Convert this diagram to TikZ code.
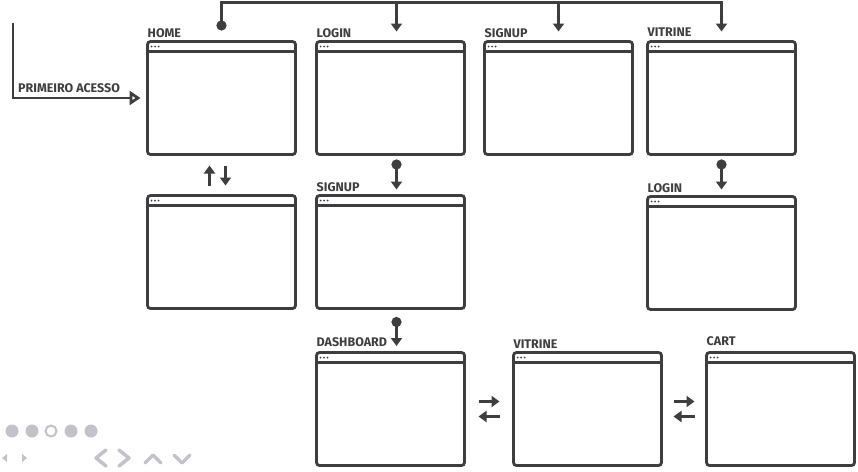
\documentclass[tikz,border=0pt]{standalone}
\usepackage{fontspec}
\newfontfamily\screenfont{Fira Sans}
\usetikzlibrary{arrows.meta, positioning}
\definecolor{ink}{RGB}{62,62,64}
\definecolor{navgray}{RGB}{194,194,202}

\begin{document}
\begin{tikzpicture}[x=1pt, y=-1pt]
      \tikzset{
  screen/.style={
    rectangle, rounded corners=3pt, draw=ink, line width=2.8pt,
    minimum width=148pt, minimum height=113pt,
    inner sep=0pt, outer sep=0pt
  },
  bar/.style={draw=ink, line width=2.8pt},
  title/.style={
    anchor=base west, inner sep=0pt, text=ink,
    font=\screenfont\bfseries\fontsize{12.5}{14}\selectfont
  },
  link/.style={draw=ink, line width=2.8pt},
  arrow/.style={link, -{Triangle[length=8pt, width=11pt]}},
  pinlink/.style={link, {Circle[length=10pt]}-{Triangle[length=8pt, width=11pt]}},
  entry/.style={link, -{Triangle[open, length=11pt, width=14pt]}},
  navshape/.style={draw=navgray, line width=3.5pt, line cap=round, line join=round},
}
\useasboundingbox (0,0) rectangle (858,471);

%% ---- FIRST ROW ----
\node[screen] (home) at (221.5,98) {};
\node[screen, right=21pt of home]    (login)   {};
\node[screen, right=20pt of login]   (signup)  {};
\node[screen, right=15pt of signup]  (vitrine) {};

%% ---- SECOND ROW ----
\node[screen, below=41pt of home]    (homeb)   {};
\node[screen, below=41pt of login]   (signupb) {};
\node[screen, below=42pt of vitrine] (loginb)  {};

%% ---- THIRD ROW ----
\node[screen, below=44pt of signupb]   (dashboard) {};
\node[screen, right=49pt of dashboard] (vitrineb)  {};
\node[screen, right=45pt of vitrineb]  (cart)      {};

%% title bars
\foreach \w in {home, login, signup, vitrine, homeb, signupb, loginb, dashboard, vitrineb, cart}{
  \draw[bar] ([yshift=-10pt]\w.north west) -- ([yshift=-10pt]\w.north east);
  \foreach \d in {4,7.5,11}
    \fill[ink] ([xshift=\d pt, yshift=-5pt]\w.north west) circle (1pt);
}

%% ---- TITLES ----
\node[title] (thome)    at ([yshift=4.5pt]home.north west)    {HOME};
\node[title] (tlogin)   at ([yshift=4.5pt]login.north west)   {LOGIN};
\node[title] (tsignup)  at ([yshift=4.5pt]signup.north west)  {SIGNUP};
\node[title] (tvitrine) at ([yshift=5.5pt]vitrine.north west) {VITRINE};
\node[title] (tsignupb) at ([yshift=4.5pt]signupb.north west) {SIGNUP};
\node[title] (tloginb)  at ([yshift=4.5pt]loginb.north west)  {LOGIN};
\node[title] (tdash)    at ([yshift=6pt]dashboard.north west) {DASHBOARD};
\node[title] (tvitrineb) at ([yshift=4pt]vitrineb.north west) {VITRINE};
\node[title] (tcart)    at ([yshift=7pt]cart.north west)      {CART};
\node[title] (tfirst)   at (18,92) {PRIMEIRO ACESSO};

%% ---- CONNECTORS ----
\coordinate (hdot) at ([yshift=11pt]home.north);
\coordinate (rail) at ([yshift=39pt]home.north);
\draw[pinlink] (hdot) -- (rail) -| ([yshift=10pt]vitrine.north);
\draw[arrow] ([xshift=6pt]login.north |- rail) -- ([xshift=6pt, yshift=10pt]login.north);
\draw[arrow] (signup.north |- rail) -- ([yshift=10pt]signup.north);

\coordinate (start) at (13,23);
\draw[entry] (start) |- ([xshift=-7pt]home.west);

\draw[pinlink] ([xshift=6pt, yshift=-5pt]login.south) -- ([xshift=6pt, yshift=6pt]signupb.north);
\draw[pinlink] ([yshift=-5pt]vitrine.south) -- ([yshift=7pt]loginb.north);
\draw[pinlink] ([xshift=6pt, yshift=-8.5pt]signupb.south) -- ([xshift=6pt, yshift=6.5pt]dashboard.north);

\draw[arrow] ([xshift=-12pt, yshift=10pt]homeb.north) -- ([xshift=-12pt, yshift=-11pt]home.south);
\draw[arrow] ([xshift=4pt, yshift=-11pt]home.south) -- ([xshift=4pt, yshift=10pt]homeb.north);

\draw[arrow] ([xshift=14pt, yshift=7.5pt]dashboard.east) -- ([xshift=-14pt, yshift=7.5pt]vitrineb.west);
\draw[arrow] ([xshift=-14pt, yshift=-7.5pt]vitrineb.west) -- ([xshift=14pt, yshift=-7.5pt]dashboard.east);
\draw[arrow] ([xshift=12pt, yshift=7.5pt]vitrineb.east) -- ([xshift=-12pt, yshift=7.5pt]cart.west);
\draw[arrow] ([xshift=-12pt, yshift=-7.5pt]cart.west) -- ([xshift=12pt, yshift=-7.5pt]vitrineb.east);

%% ---- SLIDE CONTROLS ----
\foreach \cx in {12,32,71,91}
  \fill[navgray] (\cx,431) circle (6.5pt);
\draw[navgray, line width=2pt] (51,431) circle (5.5pt);
\fill[navgray] (7,454) -- (2,458) -- (7,462) -- cycle;
\fill[navgray] (22,454) -- (27,458) -- (22,462) -- cycle;
\draw[navshape] (106,450) -- (96,458) -- (106,466);
\draw[navshape] (119,450) -- (129,458) -- (119,466);
\draw[navshape] (145,463) -- (153,455) -- (161,463);
\draw[navshape] (174,455) -- (182,463) -- (190,455);

    \end{tikzpicture}
\end{document}
